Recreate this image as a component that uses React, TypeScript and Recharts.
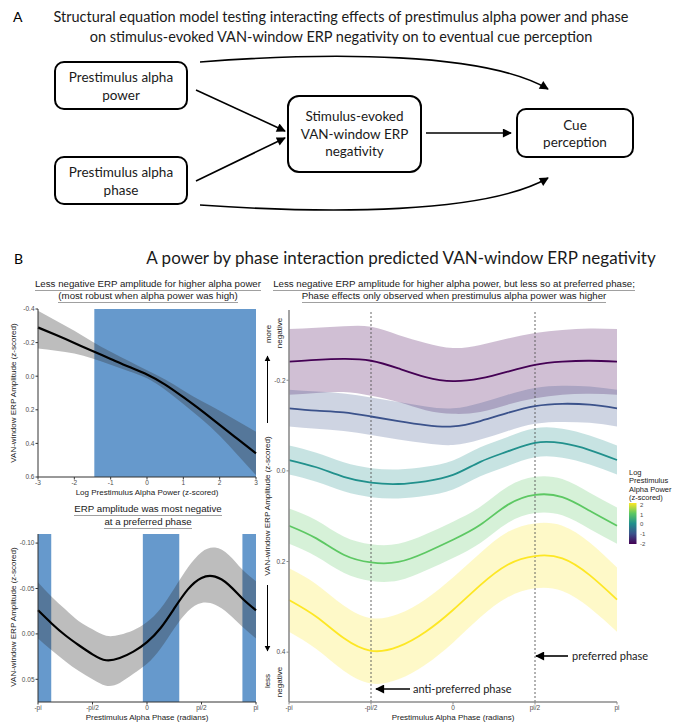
import { Area, ComposedChart, Line, ReferenceArea, ReferenceLine, XAxis, YAxis } from "recharts";

const CAL = "Lato, 'Open Sans', sans-serif";
const GG = "'Liberation Sans', Arial, sans-serif";

// ---- B left top: ERP amplitude by log alpha power ----
const powerX = [-3, -2.5, -2, -1.5, -1, -0.5, 0, 0.5, 1, 1.5, 2, 2.5, 3];
const powerFit = [-0.29, -0.245, -0.198, -0.15, -0.103, -0.056, -0.01, 0.05, 0.125, 0.205, 0.29, 0.375, 0.46];
const powerLo = [-0.39, -0.33, -0.27, -0.205, -0.145, -0.09, -0.035, 0.02, 0.085, 0.148, 0.205, 0.268, 0.33];
const powerHi = [-0.165, -0.152, -0.135, -0.105, -0.068, -0.03, 0.012, 0.08, 0.165, 0.255, 0.355, 0.47, 0.59];
const powerTicks = [-3, -2, -1, 0, 1, 2, 3];
const powerYTicks = [-0.4, -0.2, 0, 0.2, 0.4, 0.6];
const powerSig = [-1.45, 3];

// ---- B left bottom: ERP amplitude by alpha phase ----
const phase17 = [-3.1416, -2.7489, -2.3562, -1.9635, -1.5708, -1.1781, -0.7854, -0.3927, 0, 0.3927, 0.7854, 1.1781, 1.5708, 1.9635, 2.3562, 2.7489, 3.1416];
const phaseFit = [-0.026, -0.0115, 0.0015, 0.0125, 0.0225, 0.029, 0.0265, 0.0195, 0.009, -0.0065, -0.028, -0.049, -0.0616, -0.063, -0.054, -0.039, -0.026];
const phaseLo = [-0.057, -0.041, -0.027, -0.014, -0.005, 0.002, 0.001, -0.004, -0.013, -0.028, -0.05, -0.073, -0.09, -0.095, -0.087, -0.071, -0.058];
const phaseHi = [0.005, 0.018, 0.03, 0.041, 0.05, 0.057, 0.054, 0.044, 0.033, 0.016, -0.006, -0.025, -0.034, -0.032, -0.022, -0.008, 0.005];
const phaseYTicks = [-0.1, -0.05, 0, 0.05];
const phaseSig = [[-3.1416, -2.76], [-0.12, 0.93], [2.75, 3.1416]];

const phaseTicks = [-3.1416, -1.5708, 0, 1.5708, 3.1416];
const phaseTickLabels = ["-pi", "-pi/2", "0", "pi/2", "pi"];

// ---- B right: phase curves for five levels of alpha power ----
const phase13 = [-3.1416, -2.618, -2.0944, -1.5708, -1.0472, -0.5236, 0, 0.5236, 1.0472, 1.5708, 2.0944, 2.618, 3.1416];
const powerLevels = ["-2", "-1", "0", "1", "2"];
const levelColors = ["#440154", "#3B528B", "#21908C", "#5DC863", "#FDE725"];
const levelFit = [
  [-0.241, -0.245, -0.247, -0.243, -0.226, -0.207, -0.198, -0.204, -0.219, -0.234, -0.241, -0.243, -0.241],
  [-0.138, -0.133, -0.129, -0.12, -0.11, -0.101, -0.098, -0.11, -0.128, -0.143, -0.148, -0.146, -0.138],
  [-0.024, -0.008, 0.013, 0.026, 0.029, 0.023, 0.009, -0.02, -0.043, -0.062, -0.061, -0.046, -0.024],
  [0.121, 0.149, 0.185, 0.202, 0.201, 0.18, 0.152, 0.119, 0.075, 0.053, 0.058, 0.088, 0.121],
  [0.285, 0.322, 0.369, 0.397, 0.388, 0.355, 0.307, 0.252, 0.207, 0.188, 0.193, 0.23, 0.284],
];
const levelLo = [
  [-0.313, -0.316, -0.319, -0.318, -0.3, -0.282, -0.271, -0.278, -0.292, -0.304, -0.311, -0.314, -0.313],
  [-0.179, -0.175, -0.171, -0.162, -0.152, -0.142, -0.138, -0.15, -0.168, -0.183, -0.188, -0.186, -0.179],
  [-0.056, -0.04, -0.019, -0.006, -0.003, -0.009, -0.023, -0.052, -0.075, -0.094, -0.093, -0.078, -0.056],
  [0.083, 0.109, 0.145, 0.162, 0.161, 0.14, 0.112, 0.079, 0.035, 0.013, 0.018, 0.048, 0.081],
  [0.215, 0.25, 0.297, 0.325, 0.316, 0.283, 0.235, 0.181, 0.135, 0.116, 0.121, 0.158, 0.213],
];
const levelHi = [
  [-0.168, -0.172, -0.174, -0.166, -0.152, -0.134, -0.126, -0.13, -0.146, -0.16, -0.168, -0.17, -0.168],
  [-0.098, -0.093, -0.088, -0.079, -0.069, -0.061, -0.057, -0.069, -0.088, -0.104, -0.108, -0.106, -0.098],
  [0.008, 0.024, 0.045, 0.058, 0.061, 0.055, 0.041, 0.012, -0.011, -0.03, -0.029, -0.014, 0.008],
  [0.161, 0.189, 0.225, 0.243, 0.242, 0.22, 0.192, 0.159, 0.115, 0.093, 0.098, 0.128, 0.161],
  [0.355, 0.393, 0.441, 0.469, 0.46, 0.427, 0.379, 0.323, 0.279, 0.259, 0.265, 0.302, 0.355],
];
const rightYTicks = [-0.2, 0, 0.2, 0.4];
const markedPhases = [-1.5708, 1.5708];

const powerRows = powerX.map((x, i) => ({ x, fit: powerFit[i], band: [powerLo[i], powerHi[i]] }));
const phaseRows = phase17.map((x, i) => ({ x, fit: phaseFit[i], band: [phaseLo[i], phaseHi[i]] }));
const levelRows = phase13.map((x, i) => {
  const row: Record<string, any> = { x };
  powerLevels.forEach((_, k) => {
    row[`fit${k}`] = levelFit[k][i];
    row[`band${k}`] = [levelLo[k][i], levelHi[k][i]];
  });
  return row;
});

const phaseLabel = (v: number) => {
  const i = phaseTicks.findIndex((t) => Math.abs(t - v) < 1e-3);
  return i >= 0 ? phaseTickLabels[i] : "";
};

const tickStyle = { fontSize: 6.5, fill: "#4d4d4d", fontFamily: GG };

// underlined panel subtitle, one line, centred on cx with its baseline near y
function Sub({ cx, y, children }: { cx: number; y: number; children: string }) {
  return (
    <div style={{ position: "absolute", left: cx - 250, top: y - 10, width: 500, textAlign: "center",
      fontFamily: GG, fontSize: 9.7, lineHeight: "11px", color: "#1a1a1a", whiteSpace: "nowrap" }}>
      <span style={{ borderBottom: "1px solid #a0a0a0", paddingBottom: 1 }}>{children}</span>
    </div>
  );
}

function Diagram() {
  const box = { fill: "none", stroke: "#000", strokeWidth: 2 };
  const t = { fontFamily: CAL, fontSize: 13.5, fill: "#1a1a1a", textAnchor: "middle" as const };
  const ax = { fontFamily: GG, fontSize: 8, fill: "#1a1a1a", textAnchor: "middle" as const };
  return (
    <svg width={685} height={728} style={{ position: "absolute", left: 0, top: 0, pointerEvents: "none" }}>
      <defs>
        <marker id="ahBig" viewBox="0 0 10 10" refX="9" refY="5" markerWidth="10" markerHeight="9" markerUnits="userSpaceOnUse" orient="auto">
          <path d="M0,0 L10,5 L0,10 z" fill="#000" />
        </marker>
        <marker id="ahSmall" viewBox="0 0 10 10" refX="9" refY="5" markerWidth="6" markerHeight="7" markerUnits="userSpaceOnUse" orient="auto">
          <path d="M0,0 L10,5 L0,10 z" fill="#000" />
        </marker>
        <linearGradient id="viridis" x1="0" y1="0" x2="0" y2="1">
          <stop offset="0%" stopColor="#FDE725" />
          <stop offset="25%" stopColor="#5DC863" />
          <stop offset="50%" stopColor="#21908C" />
          <stop offset="75%" stopColor="#3B528B" />
          <stop offset="100%" stopColor="#440154" />
        </linearGradient>
      </defs>

      {/* A */}
      <text x={13} y={22} fontFamily={CAL} fontSize={14}>A</text>
      <text x={341} y={22} {...t} fontSize={14.5}>Structural equation model testing interacting effects of prestimulus alpha power and phase</text>
      <text x={341} y={42} {...t} fontSize={14.5}>on stimulus-evoked VAN-window ERP negativity on to eventual cue perception</text>

      <rect x={55} y={62} width={132} height={47} rx={9} {...box} />
      <rect x={55} y={157} width={132} height={47} rx={9} {...box} />
      <rect x={288} y={96} width={133} height={76} rx={11} {...box} />
      <rect x={517} y={109} width={116} height={48} rx={9} {...box} />
      <text x={121} y={82} {...t}>Prestimulus alpha</text>
      <text x={121} y={100} {...t}>power</text>
      <text x={121} y={177} {...t}>Prestimulus alpha</text>
      <text x={121} y={195} {...t}>phase</text>
      <text x={354.5} y={121} {...t}>Stimulus-evoked</text>
      <text x={354.5} y={139} {...t}>VAN-window ERP</text>
      <text x={354.5} y={156} {...t}>negativity</text>
      <text x={575} y={130} {...t}>Cue</text>
      <text x={575} y={147} {...t}>perception</text>

      <g stroke="#000" strokeWidth={1.6} fill="none">
        <line x1={196} y1={90} x2={285} y2={131} markerEnd="url(#ahBig)" />
        <line x1={196} y1={181} x2={285} y2={138} markerEnd="url(#ahBig)" />
        <line x1={426} y1={133} x2={511} y2={133} markerEnd="url(#ahBig)" />
        <path d="M200,62 C330,52 485,52 548,89" markerEnd="url(#ahBig)" />
        <path d="M200,205 C330,214 485,214 548,178" markerEnd="url(#ahBig)" />
      </g>

      {/* B */}
      <text x={14} y={264} fontFamily={CAL} fontSize={14}>B</text>
      <text x={401} y={264} {...t} fontSize={17}>A power by phase interaction predicted VAN-window ERP negativity</text>

      <text x={147} y={494.5} {...ax}>Log Prestimulus Alpha Power (z-scored)</text>
      <text x={147} y={719.5} {...ax}>Prestimulus Alpha Phase (radians)</text>
      <text x={453} y={719.5} {...ax}>Prestimulus Alpha Phase (radians)</text>
      <text transform="translate(16,393) rotate(-90)" {...ax}>VAN-window ERP Amplitude (z-scored)</text>
      <text transform="translate(16,617) rotate(-90)" {...ax}>VAN-window ERP Amplitude (z-scored)</text>
      <text transform="translate(270,506) rotate(-90)" {...ax}>VAN-window ERP Amplitude (z-scored)</text>

      <text transform="translate(271,334) rotate(-90)" {...ax}>more</text>
      <text transform="translate(282,333) rotate(-90)" {...ax}>negative</text>
      <text transform="translate(270,681) rotate(-90)" {...ax}>less</text>
      <text transform="translate(282,682) rotate(-90)" {...ax}>negative</text>
      <line x1={267.5} y1={423} x2={267.5} y2={356} stroke="#000" strokeWidth={1} markerEnd="url(#ahSmall)" />
      <line x1={267.5} y1={585} x2={267.5} y2={651} stroke="#000" strokeWidth={1} markerEnd="url(#ahSmall)" />

      <line x1={410} y1={689} x2={376} y2={689} stroke="#000" strokeWidth={1.6} markerEnd="url(#ahBig)" />
      <text x={413} y={693} fontFamily={CAL} fontSize={11} fill="#1a1a1a">anti-preferred phase</text>
      <line x1={568} y1={656} x2={536} y2={656} stroke="#000" strokeWidth={1.6} markerEnd="url(#ahBig)" />
      <text x={572} y={660} fontFamily={CAL} fontSize={11} fill="#1a1a1a">preferred phase</text>

      {/* colour bar legend */}
      <g fontFamily={GG} fontSize={7.5} fill="#1a1a1a">
        <text x={629} y={474.5}>Log</text>
        <text x={629} y={483}>Prestimulus</text>
        <text x={629} y={491.5}>Alpha Power</text>
        <text x={629} y={500}>(z-scored)</text>
      </g>
      <rect x={629} y={503} width={7.5} height={41} fill="url(#viridis)" />
      <g fontFamily={GG} fontSize={6} fill="#4d4d4d">
        {powerLevels.slice().reverse().map((lv, i) => (
          <text key={lv} x={640} y={507 + i * 9.7}>{lv}</text>
        ))}
      </g>
    </svg>
  );
}

export default function App() {
  return (
    <div style={{ position: "absolute", left: 0, top: 0, width: 685, height: 728, background: "#fff", overflow: "hidden" }}>
      <div style={{ position: "absolute", left: 0, top: 300 }}>
        <ComposedChart width={262} height={200} data={powerRows} margin={{ top: 9, right: 6, bottom: 0, left: 0 }}>
          <XAxis type="number" dataKey="x" domain={[-3, 3]} ticks={powerTicks} height={23} tick={tickStyle}
            tickSize={2.5} tickMargin={1} axisLine={{ stroke: "#333" }} tickLine={{ stroke: "#333" }} />
          <YAxis type="number" reversed domain={[-0.4, 0.6]} ticks={powerYTicks} width={38} allowDataOverflow
            tickFormatter={(v: number) => v.toFixed(1)} tick={tickStyle} tickSize={2.5} tickMargin={1}
            axisLine={{ stroke: "#333" }} tickLine={{ stroke: "#333" }} />
          <ReferenceArea x1={powerSig[0]} x2={powerSig[1]} fill="#6699CC" fillOpacity={1} stroke="none" />
          <Area type="natural" dataKey="band" fill="#333" fillOpacity={0.32} stroke="none" isAnimationActive={false} />
          <Line type="natural" dataKey="fit" stroke="#000" strokeWidth={2.2} dot={false} isAnimationActive={false} />
        </ComposedChart>
      </div>

      <div style={{ position: "absolute", left: 0, top: 525 }}>
        <ComposedChart width={262} height={200} data={phaseRows} margin={{ top: 9, right: 6, bottom: 0, left: 0 }}>
          <XAxis type="number" dataKey="x" domain={[-3.1416, 3.1416]} ticks={phaseTicks} tickFormatter={phaseLabel}
            interval={0} height={23} tick={tickStyle} tickSize={2.5} tickMargin={1}
            axisLine={{ stroke: "#333" }} tickLine={{ stroke: "#333" }} />
          <YAxis type="number" reversed domain={[-0.11, 0.075]} ticks={phaseYTicks} width={38} allowDataOverflow
            tickFormatter={(v: number) => v.toFixed(2)} tick={tickStyle} tickSize={2.5} tickMargin={1}
            axisLine={{ stroke: "#333" }} tickLine={{ stroke: "#333" }} />
          {phaseSig.map(([a, b]) => (
            <ReferenceArea key={a} x1={a} x2={b} fill="#6699CC" fillOpacity={1} stroke="none" />
          ))}
          <Area type="natural" dataKey="band" fill="#333" fillOpacity={0.32} stroke="none" isAnimationActive={false} />
          <Line type="natural" dataKey="fit" stroke="#000" strokeWidth={2.2} dot={false} isAnimationActive={false} />
        </ComposedChart>
      </div>

      <div style={{ position: "absolute", left: 250, top: 300 }}>
        <ComposedChart width={373} height={425} data={levelRows} margin={{ top: 10, right: 6, bottom: 0, left: 0 }}>
          <XAxis type="number" dataKey="x" domain={[-3.1416, 3.1416]} ticks={phaseTicks} tickFormatter={phaseLabel}
            interval={0} height={23} tick={tickStyle} tickSize={2.5} tickMargin={1}
            axisLine={{ stroke: "#8c8c8c", strokeWidth: 1.6 }} tickLine={{ stroke: "#8c8c8c" }} />
          <YAxis type="number" reversed domain={[-0.355, 0.51]} ticks={rightYTicks} width={39} allowDataOverflow
            tickFormatter={(v: number) => v.toFixed(1)} tick={tickStyle} tickSize={2.5} tickMargin={1}
            axisLine={{ stroke: "#8c8c8c", strokeWidth: 1.6 }} tickLine={{ stroke: "#8c8c8c" }} />
          {powerLevels.map((lv, k) => (
            <Area key={`b${lv}`} type="natural" dataKey={`band${k}`} fill={levelColors[k]} fillOpacity={0.25}
              stroke="none" isAnimationActive={false} />
          ))}
          {markedPhases.map((p) => (
            <ReferenceLine key={p} x={p} stroke="#555" strokeDasharray="2 2" strokeWidth={0.9} />
          ))}
          {powerLevels.map((lv, k) => (
            <Line key={`l${lv}`} type="natural" dataKey={`fit${k}`} stroke={levelColors[k]} strokeWidth={1.8}
              dot={false} isAnimationActive={false} />
          ))}
        </ComposedChart>
      </div>

      <Sub cx={148} y={287.5}>Less negative ERP amplitude for higher alpha power</Sub>
      <Sub cx={148} y={300}>(most robust when alpha power was high)</Sub>
      <Sub cx={454} y={287.5}>Less negative ERP amplitude for higher alpha power, but less so at preferred phase;</Sub>
      <Sub cx={454} y={300}>Phase effects only observed when prestimulus alpha power was higher</Sub>
      <Sub cx={148} y={512.5}>ERP amplitude was most negative</Sub>
      <Sub cx={148} y={525.5}>at a preferred phase</Sub>

      <Diagram />
    </div>
  );
}
